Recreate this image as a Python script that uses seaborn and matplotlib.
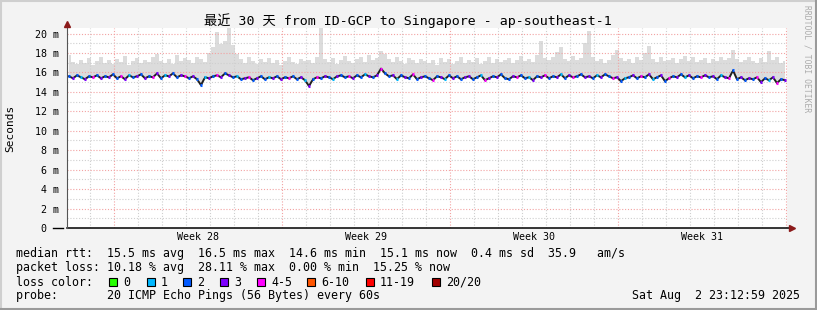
import numpy as np
import pandas as pd
import matplotlib
matplotlib.use("Agg")
import matplotlib.pyplot as plt
from matplotlib.patches import Rectangle
from matplotlib.lines import Line2D
import seaborn as sns

# ---------------- data ----------------
title = "最近 30 天 from ID-GCP to Singapore - ap-southeast-1"
y_label = "Seconds"
week_labels = ["Week 28", "Week 29", "Week 30", "Week 31"]
y_tick_values = [0, 2, 4, 6, 8, 10, 12, 14, 16, 18, 20]
y_tick_labels = ["0  ", "2 m", "4 m", "6 m", "8 m", "10 m", "12 m", "14 m", "16 m", "18 m", "20 m"]
span_days = 30

median_ms = [
    15.6, 15.4, 15.7, 15.5, 15.3, 15.6, 15.5, 15.7, 15.4, 15.6,
    15.5, 15.8, 15.4, 15.6, 15.3, 15.7, 15.5, 15.6, 15.8, 15.4,
    15.6, 15.5, 15.9, 15.4, 15.7, 15.6, 15.9, 15.5, 15.7, 15.6,
    15.4, 15.6, 15.3, 14.7, 15.5, 15.4, 15.6, 15.7, 15.5, 15.9,
    15.7, 15.5, 15.6, 15.3, 15.4, 15.5, 15.2, 15.4, 15.6, 15.3,
    15.5, 15.4, 15.6, 15.3, 15.5, 15.4, 15.6, 15.3, 15.5, 15.2,
    14.6, 15.3, 15.5, 15.4, 15.6, 15.5, 15.3, 15.6, 15.7, 15.5,
    15.6, 15.4, 15.7, 15.5, 15.8, 15.6, 15.5, 15.7, 16.4, 15.9,
    15.6, 15.7, 15.3, 15.7, 15.5, 15.4, 15.8, 15.3, 15.5, 15.6,
    15.4, 15.2, 15.6, 15.5, 15.3, 15.7, 15.4, 15.6, 15.3, 15.5,
    15.6, 15.3, 15.5, 15.7, 15.2, 15.4, 15.6, 15.5, 15.8, 15.4,
    15.3, 15.6, 15.5, 15.7, 15.4, 15.5, 15.2, 15.6, 15.5, 15.7,
    15.4, 15.6, 15.5, 15.8, 15.4, 15.7, 15.5, 15.6, 15.8, 15.5,
    15.6, 15.4, 15.7, 15.5, 15.8, 15.6, 15.4, 15.5, 15.1, 15.4,
    15.5, 15.7, 15.4, 15.6, 15.5, 15.8, 15.3, 15.5, 15.7, 15.1,
    15.4, 15.6, 15.5, 15.8, 15.5, 15.7, 15.4, 15.6, 15.5, 15.7,
    15.5, 15.6, 15.3, 15.7, 15.5, 15.4, 16.2, 15.3, 15.5, 15.2,
    15.4, 15.3, 15.5, 15.0, 15.4, 15.2, 15.5, 14.9, 15.3, 15.2,
]

smoke_top_ms = [
    17.8, 17.1, 16.9, 17.3, 17.0, 17.5, 16.8, 17.2, 17.6, 17.0,
    17.3, 16.9, 17.4, 17.1, 17.7, 16.8, 17.2, 17.5, 17.0, 17.3,
    17.1, 17.6, 17.9, 17.2, 17.0, 17.4, 16.9, 17.8, 17.2, 17.5,
    17.3, 17.0, 17.6, 17.4, 17.1, 18.0, 18.6, 20.2, 18.9, 19.2,
    20.7, 18.8, 17.9, 17.4, 17.0, 17.6, 17.2, 16.9, 17.4, 17.1,
    17.5, 17.0, 17.3, 16.8, 17.2, 17.6, 17.1, 16.9, 17.4, 17.2,
    17.3, 17.0, 17.6, 20.6, 17.4, 17.1, 17.5, 16.9, 17.3, 17.7,
    17.2, 17.0, 17.4, 17.6, 17.1, 17.8, 17.3, 17.5, 18.2, 17.9,
    17.4, 17.1, 17.6, 17.2, 16.9, 17.5, 17.3, 17.0, 17.4, 17.2,
    17.0, 17.3, 16.8, 17.5, 17.1, 17.4, 16.9, 17.2, 17.6, 17.0,
    17.3, 17.1, 17.5, 16.9, 17.2, 17.6, 17.0, 17.4, 17.1, 17.3,
    17.5, 17.0, 17.3, 17.7, 17.2, 17.4, 17.1, 17.8, 19.2, 17.5,
    17.3, 17.6, 18.1, 18.6, 17.4, 17.2, 17.7, 17.3, 17.5, 19.0,
    20.3, 17.6, 17.2, 17.4, 17.0, 17.3, 17.8, 18.3, 17.5, 17.2,
    17.4, 17.0, 17.6, 17.3, 18.0, 18.7, 17.4, 17.1, 17.6, 17.2,
    17.3, 17.5, 17.0, 17.4, 17.7, 17.2, 17.6, 17.1, 17.3, 17.5,
    17.0, 17.4, 17.2, 17.6, 17.3, 17.5, 18.3, 17.4, 17.1, 17.3,
    17.6, 17.2, 17.0, 17.5, 17.1, 18.2, 17.3, 17.6, 17.0, 17.2,
]

loss_pings = [
    2, 3, 2, 1, 3, 2, 4, 2, 3, 2, 3, 2, 2, 4, 3, 1, 2, 3, 2, 3,
    2, 4, 3, 2, 1, 3, 2, 2, 3, 4, 2, 3, 2, 2, 1, 3, 2, 4, 3, 2,
    3, 2, 1, 2, 3, 4, 2, 3, 2, 2, 1, 3, 2, 3, 2, 4, 2, 2, 3, 1,
    3, 2, 4, 2, 3, 2, 1, 3, 2, 2, 4, 3, 2, 2, 1, 3, 2, 3, 4, 2,
    2, 3, 1, 2, 3, 2, 4, 2, 3, 2, 2, 4, 2, 3, 1, 2, 3, 2, 2, 3,
    3, 2, 2, 1, 4, 3, 2, 3, 2, 2, 2, 3, 4, 2, 2, 1, 3, 2, 3, 4,
    2, 2, 3, 1, 2, 3, 4, 2, 2, 3, 3, 2, 1, 3, 2, 2, 4, 3, 2, 1,
    2, 3, 2, 4, 2, 3, 1, 2, 3, 2, 4, 2, 3, 2, 1, 3, 2, 2, 4, 3,
    2, 3, 2, 1, 3, 4, 2, 2, 3, 2, 3, 2, 4, 3, 2, 1, 3, 4, 2, 3,
]

loss_bucket_labels = ["0", "1", "2", "3", "4-5", "6-10", "11-19", "20/20"]
loss_bucket_upper = [0, 1, 2, 3, 5, 10, 19, 20]
loss_bucket_colors = ["#26ff00", "#00b8ff", "#0059ff", "#7e00ff",
                      "#ff00ff", "#ff5500", "#ff0000", "#a10000"]

stats_rtt = "median rtt:  15.5 ms avg  16.5 ms max  14.6 ms min  15.1 ms now  0.4 ms sd  35.9   am/s"
stats_loss = "packet loss: 10.18 % avg  28.11 % max  0.00 % min  15.25 % now"
loss_color_title = "loss color:"
probe_text = "probe:       20 ICMP Echo Pings (56 Bytes) every 60s"
stamp_text = "Sat Aug  2 23:12:59 2025"
credit_text = "RRDTOOL / TOBI OETIKER"

# ---------------- layout ----------------
W, H = 817, 310
MONO = "DejaVu Sans Mono"
plt.rcParams["font.family"] = [MONO, "Noto Sans CJK SC"]

n = len(median_ms)
step = span_days / n
df = pd.DataFrame({
    "day": (np.arange(n) + 0.5) * step,
    "median": median_ms,
    "top": smoke_top_ms,
    "loss": loss_pings,
})

def bucket_of(v):
    for i, ub in enumerate(loss_bucket_upper):
        if v <= ub:
            return i
    return len(loss_bucket_upper) - 1

df["color"] = [loss_bucket_colors[bucket_of(v)] for v in df["loss"]]

bg = "#f3f3f3"
fig = plt.figure(figsize=(W / 100, H / 100), dpi=100, facecolor=bg)

def px(x, y):
    return x / W, 1 - y / H

ax_left, ax_top, ax_right, ax_bottom = 67, 28, 787, 228
ax = fig.add_axes([ax_left / W, (H - ax_bottom) / H, (ax_right - ax_left) / W,
                   (ax_bottom - ax_top) / H])
ax.set_facecolor("white")
ymax = 20.57
ax.set_xlim(0, span_days)
ax.set_ylim(0, ymax)

# smoke
ax.fill_between(df["day"], df["median"], df["top"], step="mid",
                color="#dcdcdc", lw=0, zorder=1)

# grid
week_first = 1.97
red_grid = "#f2a2a2"
gray_grid = "#cfcfcf"
dots = (0, (1, 1.6))
for d in np.arange(week_first - 1, span_days, 1.0):
    if d <= 0:
        continue
    is_week = abs(((d - week_first) / 7) - round((d - week_first) / 7)) < 1e-6
    ax.axvline(d, color=red_grid if is_week else gray_grid, lw=0.8,
               ls=dots, zorder=2)
for v in range(1, 21):
    ax.axhline(v, color=red_grid if v % 2 == 0 else gray_grid, lw=0.8,
               ls=dots, zorder=2)

# median line (black base) + loss coloured segments
sns.lineplot(data=df, x="day", y="median", estimator=None, ax=ax,
             color="#202020", lw=1.4, zorder=3, legend=False)
seg = step * 0.55
ax.hlines(df["median"], df["day"] - seg / 2, df["day"] + seg / 2,
          colors=df["color"], lw=2.2, zorder=4)

# axes
for s in ax.spines.values():
    s.set_visible(False)
ax.set_xlabel("")
ax.set_ylabel("")
ax.plot([0, 30.15], [0, 0], color="#000000", lw=1.1, clip_on=False, zorder=6)
ax.plot([0, 0], [0, 20.95], color="#555555", lw=0.8, clip_on=False, zorder=6)
ax.plot([-0.58, -0.17], [0, 0], color="#000000", lw=1.0, clip_on=False, zorder=6)
ax.plot([30.2], [0], marker=">", color="#8b1a1a", ms=4, clip_on=False, zorder=7)
ax.plot([0], [20.98], marker="^", color="#8b1a1a", ms=4, clip_on=False, zorder=7)

ax.set_yticks(y_tick_values)
ax.set_yticklabels(y_tick_labels, fontsize=7.2, family=MONO)
week_centers = [week_first + 3.5 + 7 * i for i in range(len(week_labels))]
ax.set_xticks(week_centers)
ax.set_xticklabels(week_labels, fontsize=7.2, family=MONO)
ax.tick_params(axis="y", length=0, pad=6)
ax.tick_params(axis="x", length=0, pad=3)

# texts
fig.text(*px(408, 21), title, ha="center", va="center", fontsize=9.5,
         family=[MONO, "Noto Sans CJK SC"], color="#000000")
fig.text(*px(10, 128), y_label, rotation=90, ha="center", va="center",
         fontsize=8.0, family=MONO)
fig.text(*px(807, 5), credit_text, rotation=270, ha="center", va="top",
         fontsize=5.8, family=MONO, color="#ababab")

fs = 8.4
fig.text(*px(16, 254), stats_rtt, ha="left", va="center", fontsize=fs, family=MONO)
fig.text(*px(16, 268), stats_loss, ha="left", va="center", fontsize=fs, family=MONO)
fig.text(*px(16, 282), loss_color_title, ha="left", va="center", fontsize=fs, family=MONO)
fig.text(*px(16, 296), probe_text, ha="left", va="center", fontsize=fs, family=MONO)
fig.text(*px(800, 296), stamp_text, ha="right", va="center", fontsize=fs, family=MONO)

box_x = [109, 147, 183, 220, 257, 307, 366, 432]
for bx, lab, col in zip(box_x, loss_bucket_labels, loss_bucket_colors):
    fig.patches.append(Rectangle(px(bx, 286), 8 / W, 8 / H, transform=fig.transFigure,
                                 facecolor=col, edgecolor="#000000", lw=0.8))
    fig.text(*px(bx + 14, 282), lab, ha="left", va="center", fontsize=fs, family=MONO)

# frame
fig.add_artist(Line2D([0, 1], [1 - 1 / H, 1 - 1 / H], transform=fig.transFigure, color="#cfcfcf", lw=1.5))
fig.add_artist(Line2D([1 / W, 1 / W], [0, 1], transform=fig.transFigure, color="#cfcfcf", lw=1.5))
fig.add_artist(Line2D([0, 1], [1 / H, 1 / H], transform=fig.transFigure, color="#9a9a9a", lw=1.5))
fig.add_artist(Line2D([1 - 1 / W, 1 - 1 / W], [0, 1], transform=fig.transFigure, color="#9a9a9a", lw=1.5))

fig.savefig("out.png", dpi=100, facecolor=bg)
